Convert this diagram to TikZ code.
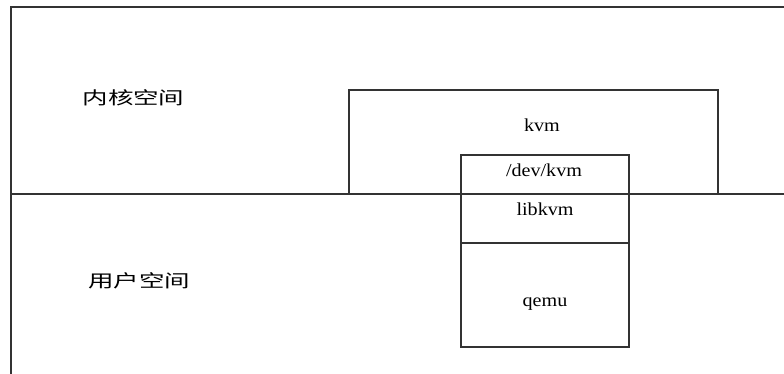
\documentclass[tikz,border=0pt]{standalone}
\usepackage{fontspec}
\setmainfont{Liberation Serif}
\newfontfamily\cjk{Noto Sans CJK SC}
\begin{document}
\begin{tikzpicture}[x=0.025cm,y=-0.025cm,line width=0.8pt,draw=black!80,
		zh/.style={font=\cjk\fontsize{12.5}{14}\selectfont,xscale=1.45,anchor=base,inner sep=0pt},
		en/.style={font=\fontsize{13}{15}\selectfont,xscale=1.1,anchor=base,inner sep=0pt}]
		\useasboundingbox (0,0) rectangle (784,374);
		% Rahmen und Trennlinie Kern / Benutzer
		\draw (784,7)--(11,7)--(11,374);
		\draw (11,194)--(784,194);
		\node[zh] (kern) at (133.5,105) {内核空间};
		\node[zh] (user) at (139,287) {用户空间};
		% kvm-Modul
		\draw (349,194)--(349,90)--(718,90)--(718,194);
		\node[en] (kvm) at (542,132) {kvm};
		% qemu mit libkvm und /dev/kvm
		\draw (461,155) rectangle (629,347);
		\draw (461,243)--(629,243);
		\node[en] (dev) at (544,176) {/dev/kvm};
		\node[en] (lib) at (545,216) {libkvm};
		\node[en] (qemu) at (545,306) {qemu};
	\end{tikzpicture}
\end{document}
